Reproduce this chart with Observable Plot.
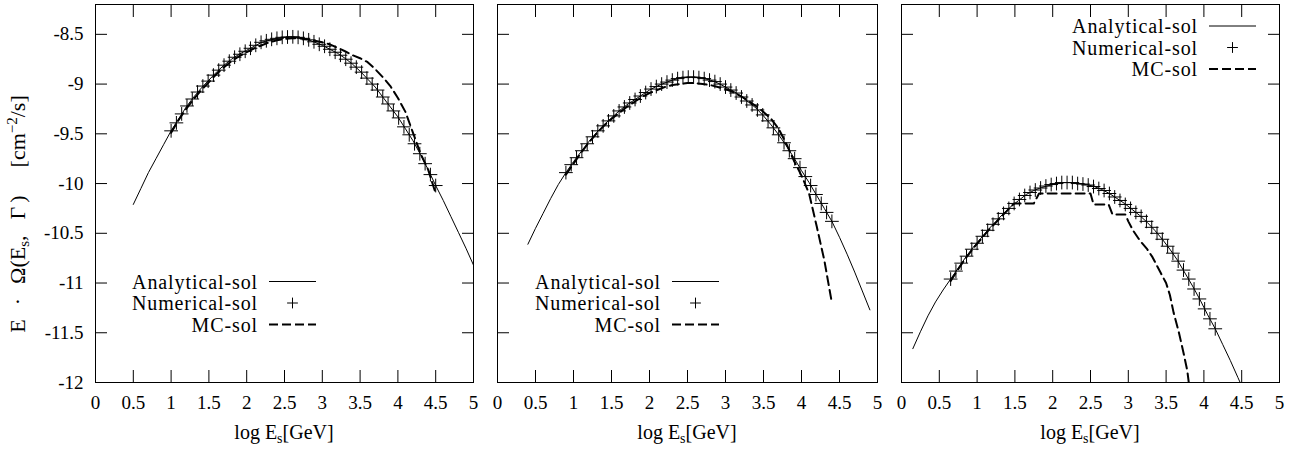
<!DOCTYPE html>
<html><head><meta charset="utf-8">
<script src="https://cdn.jsdelivr.net/npm/d3@7"></script>
<script src="https://cdn.jsdelivr.net/npm/@observablehq/plot@0.6"></script>
<style>
html,body{margin:0;padding:0;background:#fff;}
#row{display:flex;width:1309px;height:450px;}
#row svg{display:block;flex:none;}
</style></head><body><div id="row"></div>
<script>
// ---------- data ----------
const seriesNames = ["Analytical-sol", "Numerical-sol", "MC-sol"];
const xTicks = [0, 0.5, 1, 1.5, 2, 2.5, 3, 3.5, 4, 4.5, 5];
const yTicks = [-12, -11.5, -11, -10.5, -10, -9.5, -9, -8.5];
const xDomain = [0, 5];
const yDomain = [-12, -8.2];

// Panel 1
const p1AnaStart = 0.5, p1AnaStep = 0.1;
const p1Ana = [-10.21,-10.05,-9.89,-9.75,-9.61,-9.47,-9.35,-9.23,-9.13,-9.04,-8.96,-8.88,-8.81,-8.75,-8.70,-8.66,-8.62,-8.58,-8.56,-8.54,-8.53,-8.525,-8.53,-8.55,-8.58,-8.61,-8.65,-8.69,-8.74,-8.80,-8.87,-8.95,-9.03,-9.13,-9.23,-9.33,-9.45,-9.57,-9.71,-9.86,-10.02,-10.17,-10.33,-10.49,-10.65,-10.82];
const p1NumStart = 1.0, p1NumStep = 0.07;
const p1Num = [-9.47,-9.39,-9.30,-9.22,-9.15,-9.08,-9.02,-8.97,-8.91,-8.86,-8.81,-8.77,-8.73,-8.70,-8.67,-8.64,-8.61,-8.58,-8.565,-8.55,-8.54,-8.53,-8.527,-8.525,-8.53,-8.54,-8.555,-8.575,-8.60,-8.62,-8.65,-8.68,-8.71,-8.75,-8.79,-8.83,-8.88,-8.94,-9.00,-9.06,-9.13,-9.20,-9.27,-9.34,-9.43,-9.51,-9.60,-9.70,-9.80,-9.91,-10.02];
const p1McStart = 1.0, p1McStep = 0.1;
const p1Mc = [-9.49,-9.36,-9.25,-9.15,-9.06,-8.98,-8.90,-8.83,-8.77,-8.72,-8.68,-8.64,-8.61,-8.58,-8.56,-8.545,-8.54,-8.54,-8.55,-8.565,-8.58,-8.60,-8.635,-8.67,-8.71,-8.74,-8.78,-8.85,-8.93,-9.02,-9.14,-9.28,-9.49,-9.70,-9.86,-10.10];

// Panel 2
const p2AnaStart = 0.4, p2AnaStep = 0.1;
const p2Ana = [-10.61,-10.45,-10.30,-10.15,-10.01,-9.89,-9.78,-9.68,-9.58,-9.49,-9.41,-9.34,-9.27,-9.21,-9.16,-9.11,-9.06,-9.02,-8.99,-8.96,-8.94,-8.93,-8.93,-8.94,-8.96,-8.99,-9.03,-9.07,-9.12,-9.18,-9.24,-9.32,-9.41,-9.51,-9.62,-9.74,-9.87,-9.99,-10.12,-10.25,-10.38,-10.54,-10.71,-10.89,-11.08,-11.27];
const p2NumStart = 0.9, p2NumStep = 0.07;
const p2Num = [-9.89,-9.81,-9.74,-9.67,-9.60,-9.53,-9.47,-9.42,-9.37,-9.32,-9.27,-9.23,-9.19,-9.155,-9.12,-9.085,-9.05,-9.025,-9.00,-8.98,-8.96,-8.945,-8.935,-8.93,-8.93,-8.935,-8.945,-8.96,-8.975,-9.00,-9.03,-9.06,-9.09,-9.13,-9.17,-9.21,-9.26,-9.31,-9.37,-9.44,-9.51,-9.59,-9.67,-9.75,-9.84,-9.93,-10.02,-10.11,-10.20,-10.29,-10.38];
const p2McStart = 0.9, p2McStep = 0.1;
const p2Mc = [-9.91,-9.80,-9.69,-9.59,-9.50,-9.42,-9.35,-9.29,-9.23,-9.18,-9.13,-9.09,-9.06,-9.03,-9.01,-9.00,-8.99,-8.99,-9.00,-9.01,-9.03,-9.05,-9.08,-9.12,-9.17,-9.22,-9.28,-9.35,-9.45,-9.60,-9.77,-9.92,-10.10,-10.43,-10.77,-11.20];

// Panel 3
const p3AnaStart = 0.15, p3AnaStep = 0.1;
const p3Ana = [-11.66,-11.49,-11.33,-11.19,-11.07,-10.96,-10.85,-10.74,-10.64,-10.55,-10.46,-10.38,-10.30,-10.23,-10.17,-10.11,-10.07,-10.04,-10.02,-10.00,-9.99,-9.99,-10.00,-10.01,-10.03,-10.06,-10.10,-10.15,-10.20,-10.26,-10.32,-10.39,-10.47,-10.56,-10.66,-10.77,-10.90,-11.03,-11.17,-11.32,-11.46,-11.62,-11.78,-11.95,-12.12];
const p3NumStart = 0.65, p3NumStep = 0.07;
const p3Num = [-10.96,-10.88,-10.80,-10.73,-10.66,-10.60,-10.53,-10.47,-10.41,-10.355,-10.30,-10.25,-10.20,-10.16,-10.12,-10.09,-10.065,-10.045,-10.025,-10.01,-10.00,-9.99,-9.99,-9.99,-10.00,-10.005,-10.015,-10.03,-10.05,-10.07,-10.10,-10.135,-10.17,-10.21,-10.25,-10.29,-10.33,-10.38,-10.44,-10.50,-10.56,-10.63,-10.70,-10.78,-10.87,-10.96,-11.06,-11.16,-11.26,-11.36,-11.46];
const p3McX = [0.65,0.75,0.85,0.95,1.05,1.15,1.25,1.35,1.49,1.75,1.82,2.5,2.54,2.74,2.79,2.96,3.0,3.07,3.16,3.25,3.32,3.43,3.5,3.55,3.6,3.67,3.73,3.78,3.8];
const p3McY = [-10.98,-10.86,-10.75,-10.65,-10.56,-10.47,-10.39,-10.31,-10.20,-10.20,-10.10,-10.10,-10.21,-10.21,-10.31,-10.31,-10.38,-10.48,-10.58,-10.66,-10.74,-10.90,-11.00,-11.12,-11.30,-11.50,-11.70,-11.88,-12.00];

// ---------- helpers ----------
const FONT = "Liberation Serif, DejaVu Serif, serif";
const FS = 19;
const fmt = d => String(d);
const grid = (x0, step, ys) => ys.map((y, i) => ({x: Math.round((x0 + i * step) * 1000) / 1000, y}));
const pairs = (xs, ys) => xs.map((x, i) => ({x, y: ys[i]}));

const panels = [
  {ana: grid(p1AnaStart, p1AnaStep, p1Ana), num: grid(p1NumStart, p1NumStep, p1Num), mc: grid(p1McStart, p1McStep, p1Mc),
   width: 485, ml: 95, mr: 12, yLabels: true, key: {dx: 163, y: 281.5}},
  {ana: grid(p2AnaStart, p2AnaStep, p2Ana), num: grid(p2NumStart, p2NumStep, p2Num), mc: grid(p2McStart, p2McStep, p2Mc),
   width: 404, ml: 12, mr: 12, yLabels: false, key: {dx: 164, y: 281.5}},
  {ana: grid(p3AnaStart, p3AnaStep, p3Ana), num: grid(p3NumStart, p3NumStep, p3Num), mc: pairs(p3McX, p3McY),
   width: 420, ml: 12, mr: 30, yLabels: false, key: {dx: 297, y: 26}}
];

const row = document.getElementById("row");
const H = 450, MT = 4, MB = 68;

panels.forEach(p => {
  const svg = Plot.plot({
    width: p.width, height: H,
    marginLeft: p.ml, marginRight: p.mr, marginTop: MT, marginBottom: MB,
    style: {fontFamily: FONT, fontSize: FS + "px", color: "black", background: "white", overflow: "visible"},
    x: {domain: xDomain},
    y: {domain: yDomain},
    marks: [
      Plot.line(p.ana, {x: "x", y: "y", stroke: "black", strokeWidth: 1, clip: true}),
      Plot.line(p.mc, {x: "x", y: "y", stroke: "black", strokeWidth: 2, strokeDasharray: "9,5", clip: true}),
      Plot.dot(p.num, {x: "x", y: "y", symbol: "plus", r: 4.5, stroke: "black", strokeWidth: 1}),
      Plot.axisX(xTicks, {anchor: "bottom", tickSize: -12, fill: "none", label: null}),
      Plot.axisX(xTicks, {anchor: "top", tickSize: -12, fill: "none", label: null}),
      Plot.axisY(yTicks, {anchor: "left", tickSize: -12, fill: "none", label: null}),
      Plot.axisY(yTicks, {anchor: "right", tickSize: -12, fill: "none", label: null}),
      Plot.axisX(xTicks, {anchor: "bottom", tickSize: 0, tickPadding: 13, tickFormat: fmt, label: null,
        fontFamily: FONT, fontSize: FS}),
      p.yLabels ? Plot.axisY(yTicks, {anchor: "left", tickSize: 0, tickPadding: 12, tickFormat: fmt, label: null,
        fontFamily: FONT, fontSize: FS}) : null,
      Plot.frame({stroke: "black", strokeWidth: 1})
    ]
  });
  row.appendChild(svg);
  const s = d3.select(svg);
  const plotW = p.width - p.ml - p.mr;

  // x axis label: log E_s[GeV]
  const xl = s.append("text").attr("x", p.ml + plotW / 2).attr("y", 439)
    .attr("text-anchor", "middle").style("font-family", FONT).style("font-size", "20px").attr("fill", "black");
  xl.append("tspan").text("log E");
  xl.append("tspan").attr("dy", 4).style("font-size", "14px").text("s");
  xl.append("tspan").attr("dy", -4).text("[GeV]");

  // y axis label on first panel
  if (p.yLabels) {
    const yl = s.append("text").attr("transform", "translate(25,214) rotate(-90)")
      .attr("text-anchor", "middle").style("font-family", FONT).style("font-size", "22px").attr("fill", "black");
    yl.append("tspan").text("E");
    yl.append("tspan").attr("dx", 14).text("\u00b7");
    yl.append("tspan").attr("dx", 14).text("\u03a9(E");
    yl.append("tspan").attr("dy", 4).style("font-size", "15px").text("s");
    yl.append("tspan").attr("dy", -4).text(",");
    yl.append("tspan").attr("dx", 16).text("\u0393");
    yl.append("tspan").attr("dx", 4).text(")");
    yl.append("tspan").attr("dx", 28).text("[cm");
    yl.append("tspan").attr("dy", -8).style("font-size", "15px").text("\u22122");
    yl.append("tspan").attr("dy", 8).text("/s]");
  }

  // key (legend)
  const kx = p.ml + p.key.dx;
  const g = s.append("g").style("font-family", FONT).style("font-size", "20px").attr("fill", "black");
  seriesNames.forEach((name, i) => {
    const yy = p.key.y + i * 21.5;
    g.append("text").attr("x", kx).attr("y", yy).attr("dy", "0.35em").attr("text-anchor", "end")
      .attr("letter-spacing", "0.9px").text(name);
    if (i === 0) g.append("line").attr("x1", kx + 11).attr("x2", kx + 58).attr("y1", yy).attr("y2", yy)
      .attr("stroke", "black").attr("stroke-width", 1);
    if (i === 1) g.append("path").attr("d", d3.symbol(d3.symbolPlus, 40)())
      .attr("transform", `translate(${kx + 34.5},${yy})`).attr("fill", "none").attr("stroke", "black").attr("stroke-width", 1);
    if (i === 2) g.append("line").attr("x1", kx + 11).attr("x2", kx + 58).attr("y1", yy).attr("y2", yy)
      .attr("stroke", "black").attr("stroke-width", 2).attr("stroke-dasharray", "9,4");
  });
});
</script></body></html>
